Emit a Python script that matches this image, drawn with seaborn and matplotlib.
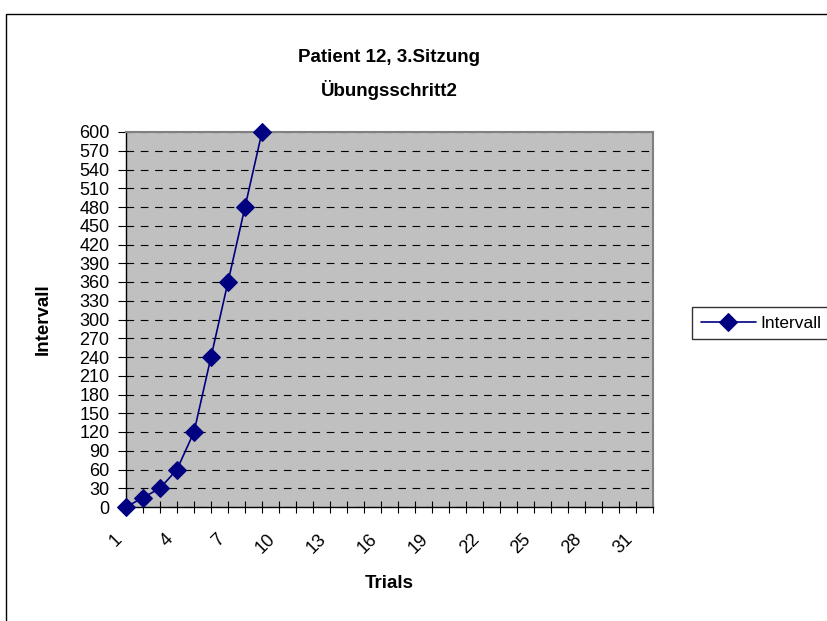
import matplotlib
matplotlib.use("Agg")
import matplotlib.pyplot as plt
import matplotlib.transforms as mtransforms
from matplotlib.patches import Rectangle
import seaborn as sns
import pandas as pd

# Daten: Patient 12, 3. Sitzung, Übungsschritt 2
trials = [1, 2, 3, 4, 5, 6, 7, 8, 9]
intervall = [0, 15, 30, 60, 120, 240, 360, 480, 600]
n_kategorien = 32
x_labels = [str(i) if (i - 1) % 3 == 0 else "" for i in range(1, n_kategorien + 1)]
y_ticks = list(range(0, 601, 30))

df = pd.DataFrame({"Trials": trials, "Intervall": intervall})

sns.set_style("white")
plt.rcParams['font.family'] = ['Liberation Sans', 'DejaVu Sans']
plt.rcParams['lines.scale_dashes'] = False
# reines Schwarz wie im Excel-Original
for key in ['text.color', 'axes.labelcolor', 'xtick.color', 'ytick.color']:
    plt.rcParams[key] = 'black'

fig = plt.figure(figsize=(8.27, 6.21), dpi=100)
ax = fig.add_axes([126 / 827, 1 - 507 / 621, 527 / 827, 375 / 621])
ax.set_facecolor('#C0C0C0')

# Rahmen um den Diagrammbereich (rechts/unten abgeschnitten)
fig.patches.append(Rectangle((6 / 827, -0.2), 1.2, 1 - 14 / 621 + 0.2,
                             transform=fig.transFigure, fill=False,
                             edgecolor='black', linewidth=1.0, zorder=0))

sns.lineplot(data=df, x="Trials", y="Intervall", ax=ax, color='#000080',
             marker='D', markersize=9, markeredgecolor='#000080',
             linewidth=1.2, label='Intervall', zorder=3, clip_on=False)

ax.set_xlim(1, n_kategorien)
ax.set_ylim(0, 600)
ax.set_yticks(y_ticks)
ax.set_yticklabels([str(v) for v in y_ticks], fontsize=13)
ax.set_xticks(range(1, n_kategorien + 1))
ax.set_xticklabels(x_labels, fontsize=13, rotation=45, ha='right', va='top')
offset = mtransforms.ScaledTranslation(-11 / 100, 0, fig.dpi_scale_trans)
for lbl in ax.get_xticklabels():
    lbl.set_transform(lbl.get_transform() + offset)

ax.tick_params(axis='x', direction='inout', length=8.6, width=0.8, pad=13,
               color='black', bottom=True)
ax.tick_params(axis='y', direction='out', length=6, width=0.8, pad=6,
               color='black', left=True)

ax.yaxis.grid(True, color='black', linewidth=0.8, linestyle=(0, (5.5, 4.8)))
ax.xaxis.grid(False)
ax.set_axisbelow(True)

for s in ['left', 'bottom']:
    ax.spines[s].set_color('black')
    ax.spines[s].set_linewidth(1.0)
for s in ['top', 'right']:
    ax.spines[s].set_color('#808080')
    ax.spines[s].set_linewidth(1.5)

ax.set_xlabel("Trials", fontsize=13.5, fontweight='bold')
ax.set_ylabel("Intervall", fontsize=13.5, fontweight='bold')
ax.xaxis.set_label_coords(0.5, -0.18)
ax.yaxis.set_label_coords(-0.14, 0.5)

title_x = 0.5 * (126 + 653) / 827
fig.text(title_x, 1 - 57 / 621, "Patient 12, 3.Sitzung",
         fontsize=13.5, fontweight='bold', ha='center', va='center')
fig.text(title_x, 1 - 90 / 621, "Übungsschritt2",
         fontsize=13.5, fontweight='bold', ha='center', va='center')

leg = ax.legend(loc='center left', bbox_to_anchor=(692 / 827, 1 - 323 / 621),
                bbox_transform=fig.transFigure, fontsize=12.5, frameon=True,
                fancybox=False, edgecolor='black', handlelength=3.2,
                handletextpad=0.25, borderpad=0.5, borderaxespad=0)
leg.get_frame().set_linewidth(1.0)

fig.savefig("out.png", dpi=100, facecolor='white')
